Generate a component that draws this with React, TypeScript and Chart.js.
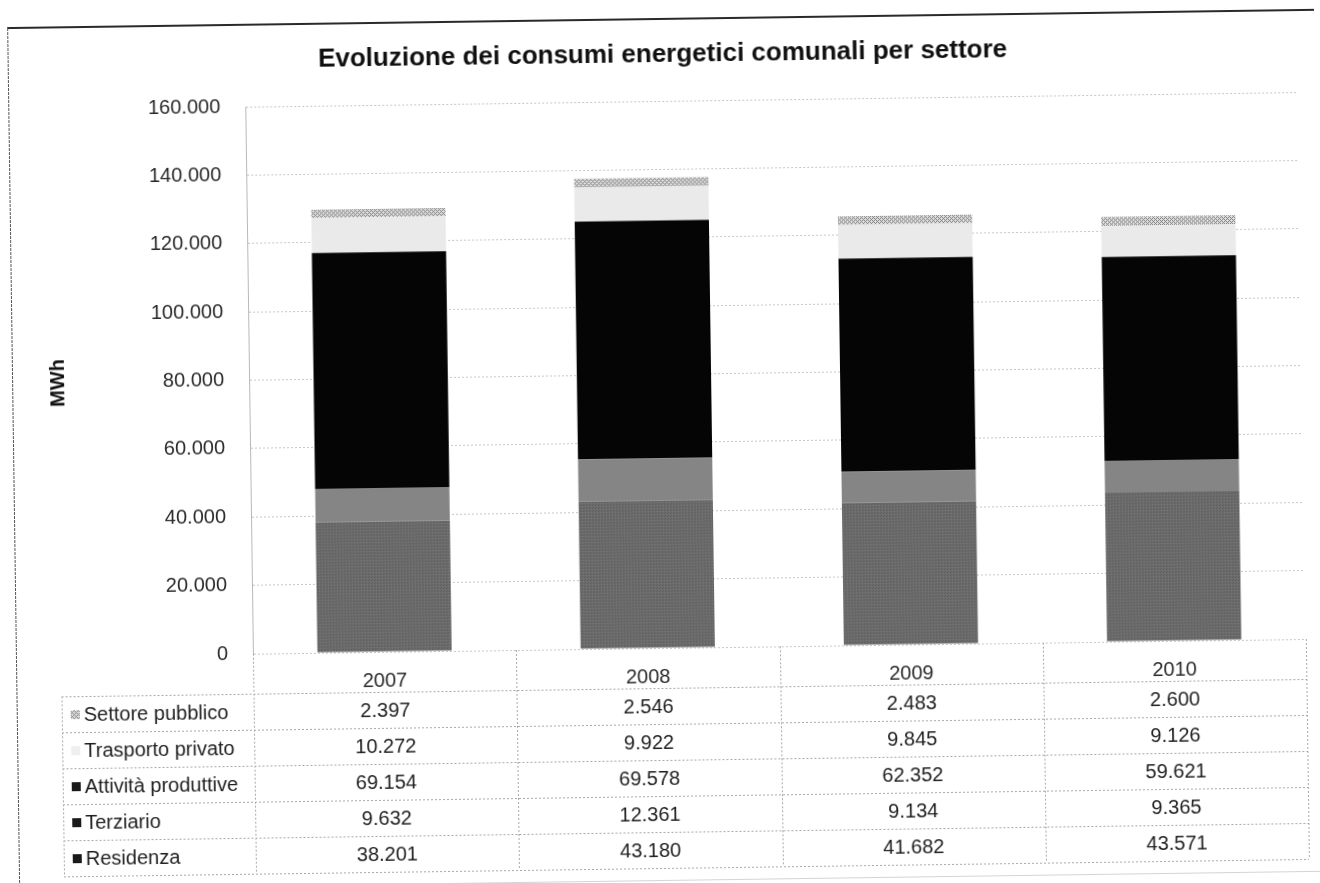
import React, { useEffect, useRef } from "react";
import { Chart, registerables } from "chart.js";

Chart.register(...registerables);

// ---------- data ----------
const years = ["2007", "2008", "2009", "2010"];
const residenza = [38201, 43180, 41682, 43571];
const terziario = [9632, 12361, 9134, 9365];
const attivitaProduttive = [69154, 69578, 62352, 59621];
const trasportoPrivato = [10272, 9922, 9845, 9126];
const settorePubblico = [2397, 2546, 2483, 2600];
const seriesLabels = [
  "Residenza",
  "Terziario",
  "Attività produttive",
  "Trasporto privato",
  "Settore pubblico",
];
const yMin = 0;
const yMax = 160000;
const yStep = 20000;
const chartTitle = "Evoluzione dei consumi energetici comunali per settore";
const yAxisTitle = "MWh";

const FONT = '"Liberation Sans", Arial, Helvetica, sans-serif';

function fmt(v: number): string {
  const s = String(Math.round(v));
  return s.replace(/\B(?=(\d{3})+(?!\d))/g, ".");
}

function makePattern(
  w: number,
  h: number,
  base: string,
  pick: (x: number, y: number) => string | null
): CanvasPattern | string {
  const c = document.createElement("canvas");
  c.width = w;
  c.height = h;
  const g = c.getContext("2d");
  if (!g) return base;
  g.fillStyle = base;
  g.fillRect(0, 0, w, h);
  for (let y = 0; y < h; y++) {
    for (let x = 0; x < w; x++) {
      const col = pick(x, y);
      if (col) {
        g.fillStyle = col;
        g.fillRect(x, y, 1, 1);
      }
    }
  }
  const p = g.createPattern(c, "repeat");
  return p || base;
}

const framePlugin = {
  id: "frame",
  beforeDraw(chart: any) {
    const { ctx, width, height } = chart;
    ctx.save();
    ctx.fillStyle = "#ffffff";
    ctx.fillRect(0, 0, width, height);
    // top rule
    ctx.strokeStyle = "#2a2a2a";
    ctx.lineWidth = 2;
    ctx.beginPath();
    ctx.moveTo(13, 19);
    ctx.lineTo(width, 19);
    ctx.stroke();
    // left border
    ctx.strokeStyle = "#555555";
    ctx.lineWidth = 1;
    ctx.setLineDash([3, 1]);
    ctx.beginPath();
    ctx.moveTo(13.5, 19);
    ctx.lineTo(13.5, height);
    ctx.stroke();
    // faint bottom
    ctx.setLineDash([]);
    ctx.strokeStyle = "#d4d4d4";
    ctx.beginPath();
    ctx.moveTo(13, 880.5);
    ctx.lineTo(width, 880.5);
    ctx.stroke();
    ctx.restore();
  },
};

const tablePlugin = {
  id: "dataTable",
  afterDraw(chart: any) {
    const ctx = chart.ctx;
    const xs = chart.scales.x;
    const labels = chart.data.labels as string[];
    const n = labels.length;
    const catW = (xs.right - xs.left) / n;
    const top = xs.bottom;
    const rowH = 36;
    const rows = chart.data.datasets.slice().reverse();
    const tableLeft = 58;
    const tableBottom = top + rowH * rows.length;

    ctx.save();
    ctx.strokeStyle = "#a8a8a8";
    ctx.lineWidth = 1;
    ctx.setLineDash([2, 2]);
    const line = (x1: number, y1: number, x2: number, y2: number) => {
      ctx.beginPath();
      ctx.moveTo(x1, y1);
      ctx.lineTo(x2, y2);
      ctx.stroke();
    };
    for (let i = 0; i <= rows.length; i++) {
      const y = Math.round(top + i * rowH) + 0.5;
      line(tableLeft, y, xs.right, y);
    }
    line(tableLeft + 0.5, top, tableLeft + 0.5, tableBottom);
    for (let k = 0; k <= n; k++) {
      const x = Math.round(xs.left + k * catW) + 0.5;
      line(x, xs.top, x, tableBottom);
    }
    ctx.setLineDash([]);

    ctx.font = `20px ${FONT}`;
    ctx.textBaseline = "middle";
    rows.forEach((ds: any, r: number) => {
      const cy = top + r * rowH + rowH / 2 + 1;
      ctx.fillStyle = ds.swatch;
      ctx.fillRect(67, Math.round(cy - 5), 9, 9);
      ctx.fillStyle = "#1e1e1e";
      ctx.textAlign = "left";
      ctx.fillText(ds.label, 80, cy);
      ctx.textAlign = "center";
      (ds.data as number[]).forEach((v, i) => {
        ctx.fillText(fmt(v), xs.getPixelForValue(i), cy);
      });
    });
    ctx.restore();
  },
};

export default function App() {
  const canvasRef = useRef<HTMLCanvasElement | null>(null);

  useEffect(() => {
    const canvas = canvasRef.current;
    if (!canvas) return;

    const residPattern = makePattern(3, 3, "#6b6b6b", (x, y) => {
      if (x === 0 && y === 0) return "#5d5d5d";
      if (x === 2 && y === 1) return "#787878";
      if (x === 1 && y === 2) return "#626262";
      return null;
    });
    const hatch = makePattern(4, 4, "#e0e0e0", (x, y) => {
      if ((x + y) % 4 === 0 || (x - y + 8) % 4 === 0) return "#808080";
      return null;
    });

    const chart = new Chart(canvas, {
      type: "bar",
      data: {
        labels: years,
        datasets: [
          { label: seriesLabels[0], data: residenza, backgroundColor: residPattern, swatch: "#1a1a1a" } as any,
          { label: seriesLabels[1], data: terziario, backgroundColor: "#858585", swatch: "#1a1a1a" } as any,
          { label: seriesLabels[2], data: attivitaProduttive, backgroundColor: "#050505", swatch: "#1a1a1a" } as any,
          { label: seriesLabels[3], data: trasportoPrivato, backgroundColor: "#eaeaea", swatch: "#efefef" } as any,
          { label: seriesLabels[4], data: settorePubblico, backgroundColor: hatch, swatch: hatch } as any,
        ],
      },
      options: {
        responsive: false,
        animation: false,
        devicePixelRatio: 1,
        datasets: {
          bar: { barPercentage: 0.51, categoryPercentage: 1, borderWidth: 0 },
        },
        layout: { padding: { left: 33, right: 17, top: 0, bottom: 195 } },
        plugins: {
          legend: { display: false },
          tooltip: { enabled: false },
          title: {
            display: true,
            text: chartTitle,
            color: "#111111",
            font: { family: FONT, size: 26, weight: "bold", lineHeight: 1.2 },
            padding: { top: 39, bottom: 31 },
          },
        },
        scales: {
          x: {
            stacked: true,
            grid: { display: false },
            border: { display: false },
            ticks: {
              color: "#2a2a2a",
              font: { family: FONT, size: 20, lineHeight: 1.2 },
              padding: 9,
            },
            afterFit: (s: any) => {
              s.height = 40;
            },
          },
          y: {
            stacked: true,
            min: yMin,
            max: yMax,
            ticks: {
              stepSize: yStep,
              color: "#2a2a2a",
              font: { family: FONT, size: 20, lineHeight: 1.2 },
              padding: 25,
              callback: (v: any) => fmt(Number(v)),
            },
            grid: { color: "#c6c6c6", drawTicks: false, lineWidth: 1 },
            border: { display: true, color: "#b8b8b8", dash: [2, 2] },
            title: {
              display: true,
              text: yAxisTitle,
              color: "#111111",
              font: { family: FONT, size: 20, weight: "bold", lineHeight: 1.2 },
              padding: { top: 14, bottom: 0 },
            },
            afterFit: (s: any) => {
              s.width = 217;
            },
          },
        },
      },
      plugins: [framePlugin, tablePlugin],
    } as any);

    return () => {
      chart.destroy();
    };
  }, []);

  return (
    <div
      style={{
        position: "fixed",
        left: 0,
        top: 0,
        width: 1320,
        height: 883,
        overflow: "hidden",
        background: "#ffffff",
      }}
    >
      <div
        style={{
          position: "absolute",
          left: 0,
          top: 0,
          width: 1320,
          height: 883,
          transform: "rotate(-0.8deg)",
          transformOrigin: "660px 441.5px",
        }}
      >
        <canvas
          ref={canvasRef}
          width={1320}
          height={883}
          style={{ display: "block", width: 1320, height: 883 }}
        />
      </div>
    </div>
  );
}
